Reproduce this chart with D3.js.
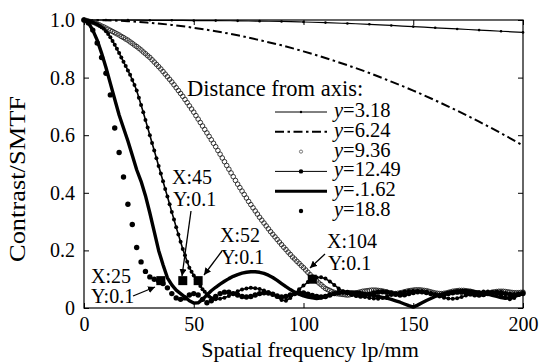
<!DOCTYPE html>
<html>
<head>
<meta charset="utf-8">
<script src="https://cdn.jsdelivr.net/npm/d3@7"></script>
<style>
  body { margin: 0; background: #fff; }
  svg { display: block; }
  svg text { font-family: "Liberation Serif", "Times New Roman", Times, serif !important; }
</style>
</head>
<body>
<svg id="chart" width="542" height="363"></svg>
<script>
// ---- data ----
const xTicks = [0, 50, 100, 150, 200];
const yTicks = [0, 0.2, 0.4, 0.6, 0.8, 1.0];

// y=3.18 and y=6.24, sampled every 10 lp/mm
const freq10 = [0, 10, 20, 30, 40, 50, 60, 70, 80, 90, 100, 110, 120, 130, 140, 150, 160, 170, 180, 190, 200];
const y318 = [1.0, 1.0, 1.0, 0.999, 0.999, 0.998, 0.998, 0.997, 0.996, 0.995, 0.993, 0.991, 0.988, 0.985, 0.981, 0.977, 0.973, 0.969, 0.965, 0.961, 0.957];
const y624 = [1.0, 0.999, 0.996, 0.99, 0.983, 0.973, 0.961, 0.947, 0.93, 0.912, 0.891, 0.868, 0.843, 0.816, 0.786, 0.755, 0.721, 0.685, 0.647, 0.607, 0.564];

// y=9.36, every 1 lp/mm from 0 to 200
const y936 = [
  1.0, 0.998, 0.996, 0.994, 0.992, 0.99, 0.986, 0.983, 0.979, 0.976,
  0.972, 0.968, 0.964, 0.96, 0.956, 0.952, 0.948, 0.943, 0.939, 0.934,
  0.93, 0.924, 0.919, 0.913, 0.908, 0.902, 0.896, 0.889, 0.883, 0.876,
  0.87, 0.862, 0.854, 0.846, 0.838, 0.83, 0.821, 0.812, 0.803, 0.794,
  0.785, 0.775, 0.765, 0.755, 0.745, 0.735, 0.724, 0.713, 0.702, 0.691,
  0.68, 0.668, 0.656, 0.644, 0.632, 0.62, 0.608, 0.596, 0.584, 0.572,
  0.56, 0.547, 0.534, 0.521, 0.508, 0.495, 0.482, 0.469, 0.456, 0.443,
  0.43, 0.418, 0.406, 0.394, 0.382, 0.37, 0.359, 0.348, 0.337, 0.326,
  0.315, 0.305, 0.295, 0.285, 0.275, 0.265, 0.256, 0.247, 0.238, 0.229,
  0.22, 0.211, 0.203, 0.194, 0.186, 0.177, 0.17, 0.162, 0.155, 0.147,
  0.14, 0.132, 0.124, 0.116, 0.108, 0.1, 0.094, 0.087, 0.081, 0.074,
  0.068, 0.064, 0.061, 0.057, 0.054, 0.05, 0.049, 0.048, 0.047, 0.046,
  0.045, 0.046, 0.048, 0.05, 0.052, 0.054, 0.056, 0.058, 0.059, 0.06,
  0.061, 0.062, 0.062, 0.062, 0.061, 0.06, 0.059, 0.057, 0.055, 0.053,
  0.051, 0.05, 0.05, 0.051, 0.052, 0.054, 0.056, 0.058, 0.06, 0.061,
  0.062, 0.063, 0.063, 0.063, 0.062, 0.061, 0.06, 0.058, 0.056, 0.054,
  0.052, 0.051, 0.05, 0.05, 0.051, 0.052, 0.054, 0.056, 0.058, 0.059,
  0.06, 0.061, 0.061, 0.061, 0.06, 0.059, 0.058, 0.056, 0.054, 0.052,
  0.051, 0.05, 0.05, 0.051, 0.052, 0.053, 0.055, 0.056, 0.057, 0.058,
  0.058, 0.058, 0.057, 0.056, 0.055, 0.054, 0.053, 0.053, 0.053, 0.054,
  0.055
];

// y=12.49: every 1 lp/mm up to 60, then every 2 from 62 to 200
const y1249Head = [
  1.0, 0.999, 0.997, 0.995, 0.992, 0.989, 0.985, 0.98, 0.975, 0.97,
  0.961, 0.951, 0.94, 0.927, 0.914, 0.9, 0.885, 0.87, 0.855, 0.84,
  0.825, 0.81, 0.792, 0.774, 0.755, 0.73, 0.705, 0.68, 0.653, 0.627,
  0.6, 0.573, 0.547, 0.52, 0.493, 0.467, 0.44, 0.413, 0.387, 0.36,
  0.333, 0.307, 0.28, 0.255, 0.23, 0.205, 0.183, 0.161, 0.14, 0.126,
  0.113, 0.1, 0.088, 0.076, 0.065, 0.056, 0.048, 0.04, 0.035, 0.032,
  0.03
];
const y1249Tail = [
  0.032, 0.036, 0.042, 0.05, 0.058, 0.064, 0.068, 0.07, 0.069, 0.066,
  0.061, 0.055, 0.047, 0.038, 0.028, 0.025, 0.035, 0.05, 0.065, 0.078,
  0.09, 0.1, 0.106, 0.107, 0.102, 0.092, 0.08, 0.068, 0.058, 0.05,
  0.045, 0.042, 0.04, 0.038, 0.035, 0.033, 0.032, 0.035, 0.04, 0.045,
  0.05, 0.054, 0.057, 0.059, 0.06, 0.06, 0.058, 0.055, 0.05, 0.045,
  0.04, 0.036, 0.033, 0.032, 0.034, 0.038, 0.043, 0.048, 0.052, 0.055,
  0.057, 0.057, 0.055, 0.05, 0.043, 0.036, 0.03, 0.035, 0.045, 0.055
];

// y=1.62 and y=18.8, every 2 lp/mm from 0 to 200
const y162 = [
  1.0, 0.99, 0.965, 0.93, 0.885, 0.835, 0.78, 0.725, 0.67, 0.625,
  0.58, 0.53, 0.48, 0.44, 0.39, 0.33, 0.265, 0.2, 0.15, 0.105,
  0.08, 0.062, 0.05, 0.038, 0.025, 0.017, 0.018, 0.03, 0.045, 0.06,
  0.072, 0.083, 0.093, 0.102, 0.11, 0.116, 0.121, 0.124, 0.126, 0.126,
  0.124, 0.12, 0.114, 0.106, 0.096, 0.085, 0.074, 0.064, 0.055, 0.048,
  0.042, 0.038, 0.035, 0.033, 0.035, 0.04, 0.045, 0.05, 0.053, 0.055,
  0.056, 0.056, 0.055, 0.053, 0.05, 0.047, 0.043, 0.04, 0.037, 0.034,
  0.03, 0.025, 0.02, 0.014, 0.008, 0.003, 0.01, 0.018, 0.026, 0.033,
  0.04, 0.045, 0.05, 0.054, 0.057, 0.059, 0.06, 0.06, 0.059, 0.057,
  0.055, 0.052, 0.048, 0.044, 0.04, 0.036, 0.034, 0.036, 0.04, 0.045,
  0.05
];
const y188 = [
  1.0, 0.99, 0.965, 0.92, 0.87, 0.815, 0.74, 0.625, 0.54, 0.455,
  0.36, 0.29, 0.21, 0.16, 0.127, 0.108, 0.1, 0.095, 0.085, 0.07,
  0.05, 0.035, 0.03, 0.035, 0.045, 0.05, 0.045, 0.03, 0.018, 0.025,
  0.04, 0.05, 0.055, 0.055, 0.05, 0.045, 0.04, 0.038, 0.04, 0.045,
  0.05, 0.053, 0.052, 0.048, 0.042, 0.038, 0.04, 0.045, 0.05, 0.053,
  0.052, 0.048, 0.044, 0.04, 0.038, 0.04, 0.045, 0.05, 0.054, 0.055,
  0.054, 0.05, 0.045, 0.042, 0.043, 0.047, 0.052, 0.055, 0.056, 0.055,
  0.052, 0.048, 0.045, 0.046, 0.05, 0.054, 0.056, 0.056, 0.054, 0.05,
  0.046, 0.044, 0.046, 0.05, 0.053, 0.055, 0.055, 0.053, 0.049, 0.046,
  0.045, 0.047, 0.05, 0.053, 0.054, 0.053, 0.05, 0.047, 0.046, 0.048,
  0.05
];

// data tips
const tips = [
  { x: 35, y: 0.095, lines: ["X:25", "Y:0.1"] },
  { x: 45, y: 0.095, lines: ["X:45", "Y:0.1"] },
  { x: 52, y: 0.095, lines: ["X:52", "Y:0.1"] },
  { x: 104, y: 0.1, lines: ["X:104", "Y:0.1"] }
];

const legendLabels = ["3.18", "6.24", "9.36", "12.49", ".1.62", "18.8"];

// ---- layout ----
const margin = { left: 84, right: 19, top: 20, bottom: 55 };
const width = 542, height = 363;
const svg = d3.select('#chart');

const x = d3.scaleLinear().domain([0, 200]).range([margin.left, width - margin.right]);
const y = d3.scaleLinear().domain([0, 1]).range([height - margin.bottom, margin.top]);

const pts = (fs, vs) => vs.map((v, i) => [fs[i], v]);
const s318 = pts(freq10, y318);
const s624 = pts(freq10, y624);
const s936 = y936.map((v, i) => [i, v]);
const s1249 = y1249Head.map((v, i) => [i, v])
  .concat(y1249Tail.map((v, i) => [62 + 2 * i, v]));
const s162 = y162.map((v, i) => [2 * i, v]);
const s188 = y188.map((v, i) => [2 * i, v]);

const line = d3.line().x(d => x(d[0])).y(d => y(d[1]));
const smooth = d3.line().x(d => x(d[0])).y(d => y(d[1])).curve(d3.curveMonotoneX);

svg.append('defs').append('marker')
  .attr('id', 'arrow')
  .attr('viewBox', '0 0 10 10')
  .attr('refX', 10).attr('refY', 5)
  .attr('markerWidth', 7).attr('markerHeight', 7)
  .attr('markerUnits', 'userSpaceOnUse')
  .attr('orient', 'auto')
  .append('path').attr('d', 'M0,0L10,5L0,10z').attr('fill', '#000');

// ---- axes (ticks pointing inward, box frame) ----
const fmtY = d => d === 0 ? '0' : d3.format('.1f')(d);
const axes = svg.append('g').attr('class', 'axes');

axes.append('g')
  .attr('transform', `translate(${margin.left},0)`)
  .call(d3.axisLeft(y).tickValues(yTicks).tickFormat(fmtY).tickSize(-5).tickPadding(9))
  .call(g => g.select('.domain').remove());
axes.append('g')
  .attr('transform', `translate(${width - margin.right},0)`)
  .call(d3.axisRight(y).tickValues(yTicks).tickFormat('').tickSize(-5))
  .call(g => g.select('.domain').remove());
axes.append('g')
  .attr('transform', `translate(0,${height - margin.bottom})`)
  .call(d3.axisBottom(x).tickValues(xTicks).tickFormat(d3.format('d')).tickSize(-5).tickPadding(9))
  .call(g => g.select('.domain').remove());
axes.append('g')
  .attr('transform', `translate(0,${margin.top})`)
  .call(d3.axisTop(x).tickValues(xTicks).tickFormat('').tickSize(-5))
  .call(g => g.select('.domain').remove());

axes.selectAll('.tick text').attr('font-size', 20);
axes.selectAll('.tick line').attr('stroke', '#000');

axes.append('rect')
  .attr('x', margin.left).attr('y', margin.top)
  .attr('width', width - margin.left - margin.right)
  .attr('height', height - margin.top - margin.bottom)
  .attr('fill', 'none').attr('stroke', '#000').attr('stroke-width', 1.2);

// ---- series ----
const plot = svg.append('g');

plot.append('path').datum(s318)
  .attr('d', smooth).attr('fill', 'none').attr('stroke', '#000').attr('stroke-width', 1.2);
plot.append('g').selectAll('circle').data(s318).join('circle')
  .attr('cx', d => x(d[0])).attr('cy', d => y(d[1])).attr('r', 1.3);

plot.append('path').datum(s624)
  .attr('d', smooth).attr('fill', 'none').attr('stroke', '#000').attr('stroke-width', 2)
  .attr('stroke-dasharray', '9,3.5,2.5,3.5');

plot.append('g').selectAll('circle').data(s936).join('circle')
  .attr('cx', d => x(d[0])).attr('cy', d => y(d[1])).attr('r', 2.3)
  .attr('fill', 'none').attr('stroke', '#222').attr('stroke-width', 0.9);

plot.append('path').datum(s1249)
  .attr('d', line).attr('fill', 'none').attr('stroke', '#000').attr('stroke-width', 1.6);
plot.append('g').selectAll('circle').data(s1249).join('circle')
  .attr('cx', d => x(d[0])).attr('cy', d => y(d[1])).attr('r', 2);

plot.append('path').datum(s162)
  .attr('d', line).attr('fill', 'none').attr('stroke', '#000').attr('stroke-width', 3.4)
  .attr('stroke-linejoin', 'round');

plot.append('g').selectAll('circle').data(s188).join('circle')
  .attr('cx', d => x(d[0])).attr('cy', d => y(d[1])).attr('r', 2.7);

// ---- data tips ----
const tipPos = [
  { tx: 91, ty: 283, dy: 20, ax1: 133, ay1: 296, ax2: 155, ay2: 287 },
  { tx: 172, ty: 184, dy: 22, ax1: 191, ay1: 211, ax2: 182, ay2: 276 },
  { tx: 220, ty: 242, dy: 22, ax1: 222, ay1: 251, ax2: 204, ay2: 275 },
  { tx: 327, ty: 248, dy: 22, ax1: 325, ay1: 254, ax2: 310, ay2: 268 }
];
const tipG = svg.append('g');
tipG.selectAll('rect').data(tips).join('rect')
  .attr('x', d => x(d.x) - 4.5).attr('y', d => y(d.y) - 4.5)
  .attr('width', 9).attr('height', 9).attr('fill', '#000');

tips.forEach((t, i) => {
  const p = tipPos[i];
  const txt = tipG.append('text').attr('x', p.tx).attr('y', p.ty).attr('font-size', 20);
  txt.append('tspan').attr('x', p.tx).text(t.lines[0]);
  txt.append('tspan').attr('x', p.tx + (i === 0 ? 0 : 1)).attr('dy', p.dy).text(t.lines[1]);
  tipG.append('line')
    .attr('x1', p.ax1).attr('y1', p.ay1).attr('x2', p.ax2).attr('y2', p.ay2)
    .attr('stroke', '#000').attr('stroke-width', 1.3)
    .attr('marker-end', 'url(#arrow)');
});

// ---- legend ----
const leg = svg.append('g');
leg.append('text').attr('x', 187).attr('y', 96).attr('font-size', 22.5).text('Distance from axis:');
const rowY = i => 112 + i * 19.8;
const lx1 = 275, lx2 = 327, lmid = 301;

legendLabels.forEach((lab, i) => {
  const t = leg.append('text').attr('x', 334).attr('y', rowY(i) + 5).attr('font-size', 20.5);
  t.append('tspan').attr('font-style', 'italic').text('y');
  t.append('tspan').text('=' + lab);
});

leg.append('line').attr('x1', lx1).attr('x2', lx2).attr('y1', rowY(0)).attr('y2', rowY(0))
  .attr('stroke', '#000').attr('stroke-width', 1);
leg.append('circle').attr('cx', lmid).attr('cy', rowY(0)).attr('r', 1.2);
leg.append('line').attr('x1', lx1).attr('x2', lx2).attr('y1', rowY(1)).attr('y2', rowY(1))
  .attr('stroke', '#000').attr('stroke-width', 2).attr('stroke-dasharray', '9,3.5,2.5,3.5');
leg.append('circle').attr('cx', lmid).attr('cy', rowY(2)).attr('r', 1.6)
  .attr('fill', 'none').attr('stroke', '#555').attr('stroke-width', 0.8);
leg.append('line').attr('x1', lx1).attr('x2', lx2).attr('y1', rowY(3)).attr('y2', rowY(3))
  .attr('stroke', '#000').attr('stroke-width', 1);
leg.append('circle').attr('cx', lmid).attr('cy', rowY(3)).attr('r', 2.2);
leg.append('line').attr('x1', lx1).attr('x2', lx2).attr('y1', rowY(4)).attr('y2', rowY(4))
  .attr('stroke', '#000').attr('stroke-width', 3);
leg.append('circle').attr('cx', lmid).attr('cy', rowY(5)).attr('r', 2.2);

// ---- axis titles ----
svg.append('text')
  .attr('x', 310).attr('y', 357).attr('text-anchor', 'middle').attr('font-size', 22)
  .text('Spatial frequency lp/mm');
svg.append('text')
  .attr('transform', 'translate(25,179) rotate(-90)')
  .attr('text-anchor', 'middle').attr('font-size', 23)
  .attr('textLength', 166).attr('lengthAdjust', 'spacingAndGlyphs')
  .text('Contrast/SMTF');

svg.selectAll('text').attr('fill', '#000');
</script>
</body>
</html>
